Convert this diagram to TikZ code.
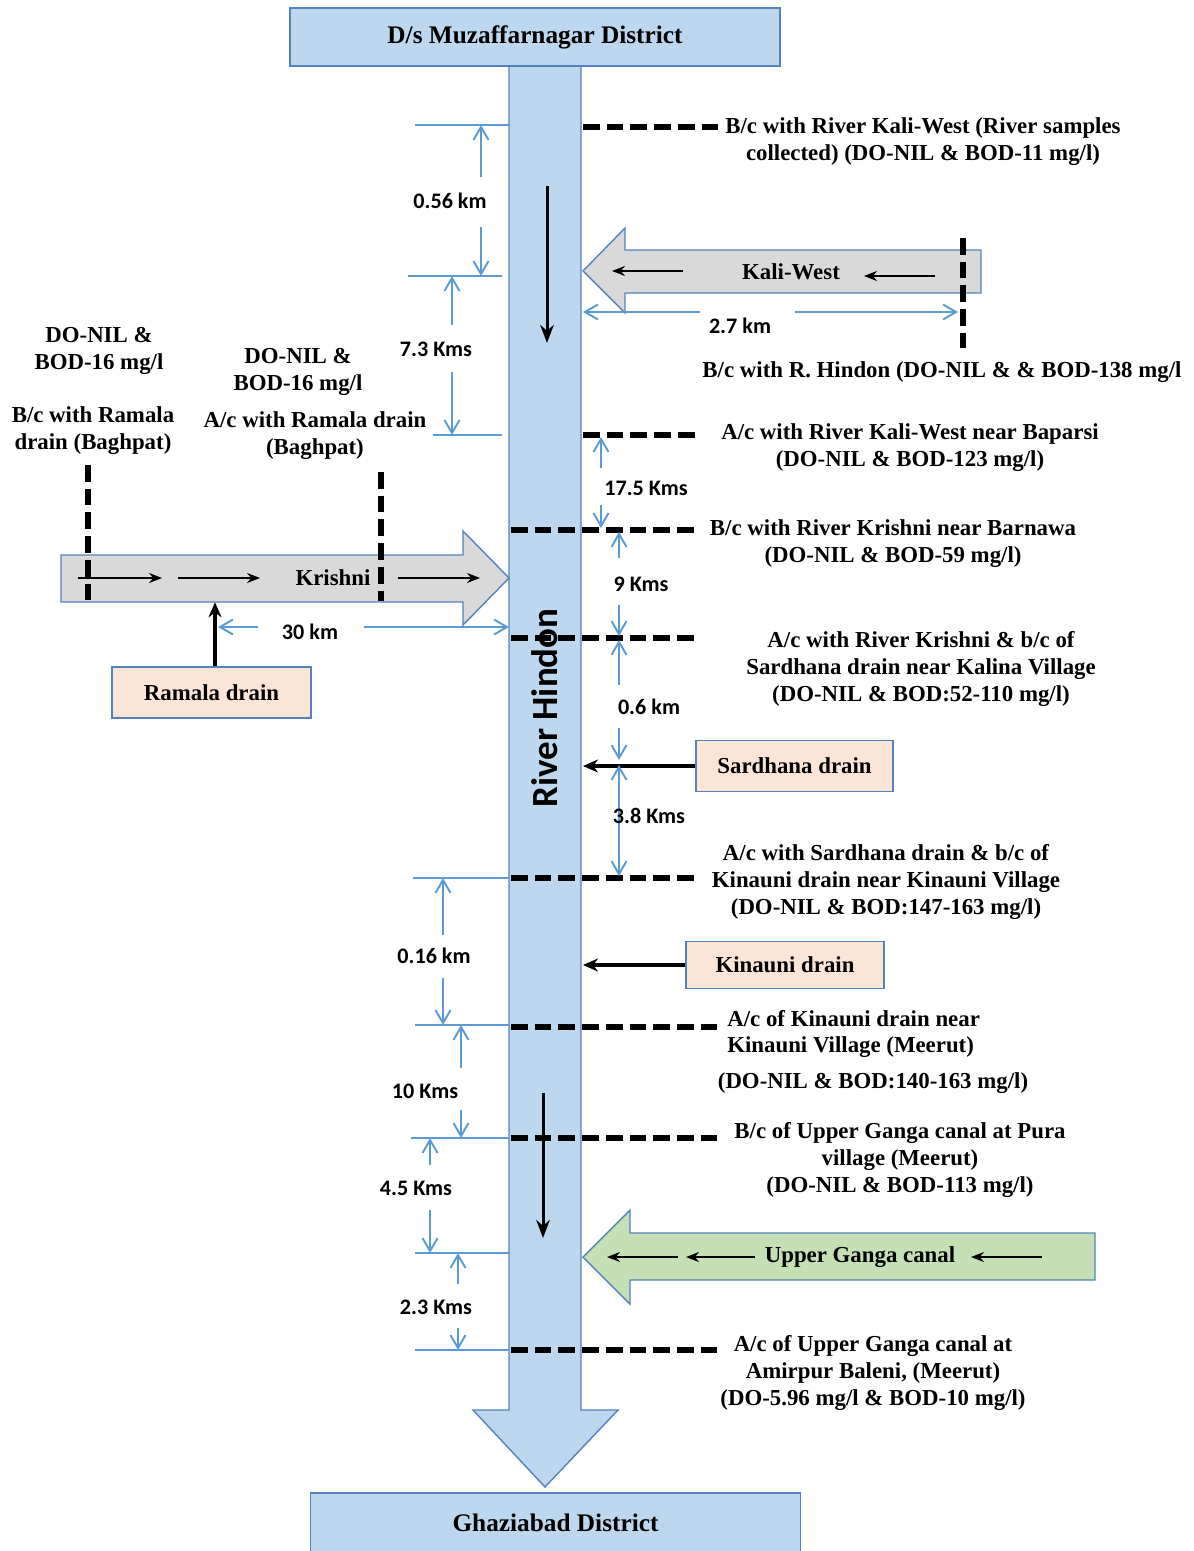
\documentclass[tikz,border=0pt]{standalone}
\usepackage{fontspec}
\setmainfont{Liberation Serif}
\newfontfamily\calib{Carlito}
\usepackage{tikz}
\usetikzlibrary{arrows.meta, positioning, calc}

\definecolor{riverblue}{RGB}{189,215,238}
\definecolor{edgeblue}{RGB}{84,130,190}
\definecolor{dimblue}{RGB}{91,155,213}
\definecolor{canalgrey}{RGB}{217,217,217}
\definecolor{drainpeach}{RGB}{251,229,214}
\definecolor{gangagreen}{RGB}{197,224,180}

\begin{document}
\begin{tikzpicture}[
  x=0.02cm, y=-0.02cm,
  district/.style={draw=edgeblue, fill=riverblue, line width=0.8pt, minimum width=9.8cm, minimum height=1.16cm, font=\fontsize{14.4}{17}\selectfont\bfseries},
  drain/.style={draw=edgeblue, fill=drainpeach, line width=0.8pt, minimum width=3.96cm, minimum height=1.0cm, font=\fontsize{13}{15}\selectfont\bfseries},
  canal/.style={draw=edgeblue, line width=0.8pt},
  canalname/.style={inner sep=1pt, font=\fontsize{13}{15}\selectfont\bfseries},
  site/.style={align=center, inner sep=0pt, font=\fontsize{13}{15.3}\selectfont\bfseries},
  dist/.style={inner sep=1pt, font=\calib\fontsize{12.6}{15}\selectfont\bfseries},
  sample/.style={line width=3.2pt, dash pattern=on 9.5pt off 4pt},
  dimarrow/.style={dimblue, line width=1.1pt, -{Straight Barb[length=2.6mm, width=3mm]}},
  extline/.style={dimblue, line width=1pt},
  flow/.style={line width=1.7pt, -{Stealth[length=3.6mm, width=2.7mm]}},
  tinyflow/.style={line width=1pt, -{Stealth[length=2.6mm, width=2mm]}},
  inflow/.style={line width=2.4pt, -{Stealth[length=3mm, width=2.6mm]}}
]
\useasboundingbox (0,0) rectangle (1193,1551);

% river
\filldraw[canal, fill=riverblue] (509,66) -- (509,1410) -- (473,1410) -- (545,1487) -- (618,1410) -- (581,1410) -- (581,66) -- cycle;
\coordinate (reast) at (583,0);
\node[rotate=90, font=\calib\fontsize{21}{24}\selectfont\bfseries] (hindon) at (545,708) {River Hindon};
\draw[flow] (547,186) -- (547,343);
\draw[flow] (543,1093) -- (543,1238);

\node[district] (top) at (535,37) {D/s Muzaffarnagar District};
\node[district, minimum height=1.2cm] (bottom) at (555.5,1523) {Ghaziabad District};

% Kali-West
\filldraw[canal, fill=canalgrey] (981,250) -- (625,250) -- (625,228) -- (583,271) -- (625,313) -- (625,293) -- (981,293) -- cycle;
\node[canalname] (kali) at (791,272) {Kali-West};
\draw[tinyflow] (683,271) -- (612,271);
\draw[tinyflow] (935,276) -- (864,276);
\draw[sample] (963,238) -- (963,348);
\node[dist] (d27) at (740,326) {2.7 km};
\draw[dimarrow] (700,312) -- (583,312);
\draw[dimarrow] (795,312) -- (958,312);
\node[site] (bchindon) at (942,372) {B/c with R. Hindon (DO-NIL \& \& BOD-138 mg/l};

% Krishni
\filldraw[canal, fill=canalgrey] (61,555) -- (463,555) -- (463,531) -- (509,578) -- (463,625) -- (463,602) -- (61,602) -- cycle;
\node[canalname] (krishni) at (333,578) {Krishni};
\draw[tinyflow] (78,578) -- (162,578);
\draw[tinyflow] (178,578) -- (260,578);
\draw[tinyflow] (398,578) -- (480,578);
\draw[sample] (88,465) -- (88,601);
\draw[sample] (381,472) -- (381,601);
\node[site] (bcram) at (99,351) {DO-NIL \&\\BOD-16 mg/l};
\node[site] (bcramname) at (93,431) {B/c with Ramala\\drain (Baghpat)};
\node[site] (acram) at (298,372) {DO-NIL \&\\BOD-16 mg/l};
\node[site] (acramname) at (315,436) {A/c with Ramala drain\\(Baghpat)};
\node[drain, minimum width=3.98cm, minimum height=1.02cm] (ramala) at (211.5,692.5) {Ramala drain};
\draw[inflow] ([xshift=0.07cm]ramala.north) -- ++(0,-64);
\node[dist] (d30) at (310,632) {30 km};
\draw[dimarrow] (258,627) -- (218,627);
\draw[dimarrow] (364,627) -- (509,627);

% drains on the right
\node[drain, minimum width=3.94cm, minimum height=1.02cm] (sardhana) at (794.5,766) {Sardhana drain};
\draw[inflow] (sardhana.west) -- (sardhana.west -| reast);
\node[drain, minimum width=3.96cm, minimum height=0.94cm] (kinauni) at (785,965) {Kinauni drain};
\draw[inflow] (kinauni.west) -- (kinauni.west -| reast);

% Upper Ganga canal
\filldraw[canal, fill=gangagreen] (1095,1233) -- (630,1233) -- (630,1210) -- (583,1257) -- (630,1304) -- (630,1280) -- (1095,1280) -- cycle;
\node[canalname] (ganga) at (860,1257) {Upper Ganga canal};
\draw[tinyflow] (678,1257) -- (607,1257);
\draw[tinyflow] (755,1257) -- (686,1257);
\draw[tinyflow] (1042,1257) -- (971,1257);

% sampling points
\draw[sample] (583,127) -- (720,127);
\draw[sample] (583,435) -- (700,435);
\draw[sample] (511,530) -- (697,530);
\draw[sample] (511,638) -- (700,638);
\draw[sample] (511,878) -- (697,878);
\draw[sample] (511,1027) -- (722,1027);
\draw[sample] (511,1138) -- (720,1138);
\draw[sample] (511,1350) -- (720,1350);

\node[site] (s1) at (923,142) {B/c with River Kali-West (River samples\\collected) (DO-NIL \& BOD-11 mg/l)};
\node[site] (s2) at (910,448) {A/c with River Kali-West near Baparsi\\(DO-NIL \& BOD-123 mg/l)};
\node[site] (s3) at (893,544) {B/c with River Krishni near Barnawa\\(DO-NIL \& BOD-59 mg/l)};
\node[site] (s4) at (921,669) {A/c with River Krishni \& b/c of\\Sardhana drain near Kalina Village\\(DO-NIL \& BOD:52-110 mg/l)};
\node[site] (s5) at (886,882) {A/c with Sardhana drain \& b/c of\\Kinauni drain near Kinauni Village\\(DO-NIL \& BOD:147-163 mg/l)};
\node[site, anchor=west, align=left] (s6) at (727,1034) {A/c of Kinauni drain near\\Kinauni Village (Meerut)};
\node[site] (s6do) at (873,1083) {(DO-NIL \& BOD:140-163 mg/l)};
\node[site] (s7) at (900,1160) {B/c of Upper Ganga canal at Pura\\village (Meerut)\\(DO-NIL \& BOD-113 mg/l)};
\node[site] (s8) at (873,1373) {A/c of Upper Ganga canal at\\Amirpur Baleni, (Meerut)\\(DO-5.96 mg/l \& BOD-10 mg/l)};

% distances, left side
\draw[extline] (415,125) -- (509,125);
\draw[extline] (408,276) -- (502,276);
\draw[extline] (433,435) -- (502,435);
\draw[extline] (413,878) -- (509,878);
\draw[extline] (415,1025) -- (509,1025);
\draw[extline] (411,1138) -- (509,1138);
\draw[extline] (415,1253) -- (509,1253);
\draw[extline] (415,1350) -- (509,1350);

\node[dist] (d056) at (450,201) {0.56 km};
\draw[dimarrow] (481,177) -- (481,125);
\draw[dimarrow] (481,227) -- (481,276);
\node[dist] (d73) at (436,349) {7.3 Kms};
\draw[dimarrow] (452,325) -- (452,276);
\draw[dimarrow] (452,372) -- (452,435);
\node[dist] (d016) at (434,956) {0.16 km};
\draw[dimarrow] (443,935) -- (443,878);
\draw[dimarrow] (443,978) -- (443,1025);
\node[dist] (d10) at (425,1091) {10 Kms};
\draw[dimarrow] (461,1068) -- (461,1025);
\draw[dimarrow] (461,1110) -- (461,1138);
\node[dist] (d45) at (416,1188) {4.5 Kms};
\draw[dimarrow] (430,1165) -- (430,1138);
\draw[dimarrow] (430,1210) -- (430,1253);
\node[dist] (d23) at (436,1307) {2.3 Kms};
\draw[dimarrow] (458,1284) -- (458,1253);
\draw[dimarrow] (458,1328) -- (458,1350);

% distances, right side
\node[dist] (d175) at (646,488) {17.5 Kms};
\draw[dimarrow] (601,468) -- (601,437);
\draw[dimarrow] (601,505) -- (601,528);
\node[dist] (d9) at (641,584) {9 Kms};
\draw[dimarrow] (619,558) -- (619,532);
\draw[dimarrow] (619,605) -- (619,636);
\node[dist] (d06) at (649,707) {0.6 km};
\draw[dimarrow] (619,685) -- (619,640);
\draw[dimarrow] (619,728) -- (619,760);
\draw[dimarrow, {Straight Barb[length=2.6mm, width=3mm]}-{Straight Barb[length=2.6mm, width=3mm]}] (619,765) -- (619,876);
\node[dist] (d38) at (649,816) {3.8 Kms};
\end{tikzpicture}
\end{document}
